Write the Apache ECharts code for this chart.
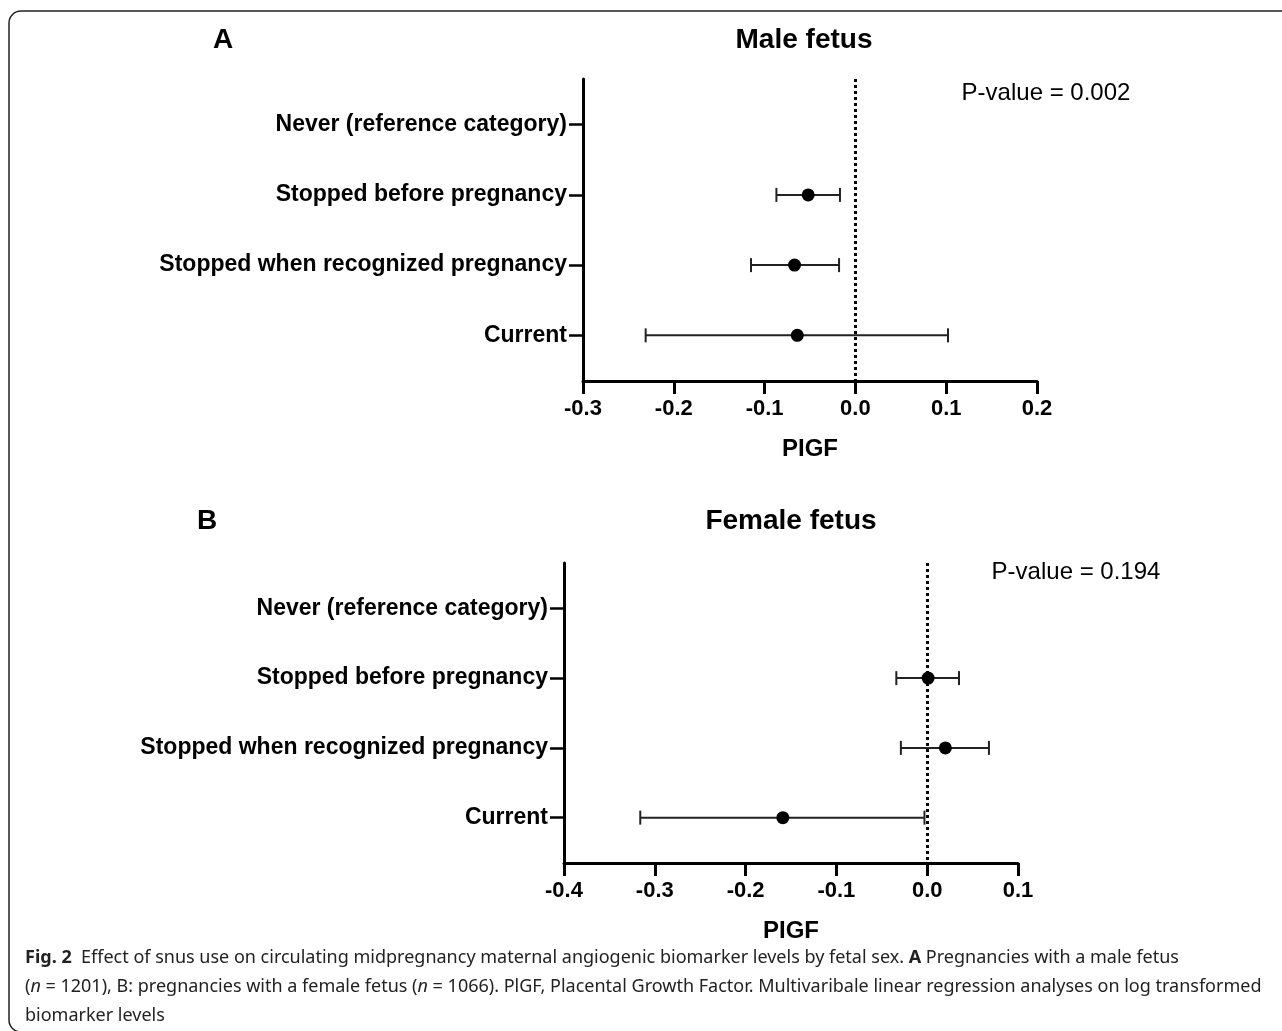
<!DOCTYPE html>
<html lang="en">
<head>
<meta charset="UTF-8">
<title>Fig. 2 snus PlGF</title>
<script src="https://cdn.jsdelivr.net/npm/echarts@6/dist/echarts.min.js"></script>
<style>
  html, body { margin: 0; padding: 0; background: #fff; }
  #chart { width: 1282px; height: 1031px; }
</style>
</head>
<body>
<div id="chart"></div>
<script>
// categories, top to bottom
const categories = ['Never (reference category)', 'Stopped before pregnancy', 'Stopped when recognized pregnancy', 'Current'];

// A: male fetus (estimate, lower CI, upper CI); reference category has no mark
const maleEst  = [null, -0.052, -0.067, -0.064];
const maleLow  = [null, -0.087, -0.115, -0.231];
const maleHigh = [null, -0.017, -0.018,  0.102];
const maleP = 'P-value = 0.002';

// B: female fetus
const femaleEst  = [null, 0.001, 0.020, -0.159];
const femaleLow  = [null, -0.034, -0.029, -0.316];
const femaleHigh = [null, 0.035, 0.068, -0.003];
const femaleP = 'P-value = 0.194';

// x ticks
const maleTicks = [-0.3, -0.2, -0.1, 0.0, 0.1, 0.2];
const femaleTicks = [-0.4, -0.3, -0.2, -0.1, 0.0, 0.1];

const FONT = 'Liberation Sans, Arial, sans-serif';
const catPos = categories.map((c, i) => i + 1);

function pts(est) {
  const out = [];
  est.forEach((v, i) => { if (v != null) out.push([v, i + 1]); });
  return out;
}
function bars(est, low, high) {
  const out = [];
  est.forEach((v, i) => { if (v != null) out.push([i + 1, low[i], high[i]]); });
  return out;
}

// whiskers with caps
function renderBar(params, api) {
  const y = api.value(0);
  const a = api.coord([api.value(1), y]);
  const b = api.coord([api.value(2), y]);
  const h = 7;
  const st = { stroke: '#222', lineWidth: 2 };
  return {
    type: 'group',
    children: [
      { type: 'line', shape: { x1: a[0], y1: a[1], x2: b[0], y2: b[1] }, style: st },
      { type: 'line', shape: { x1: a[0], y1: a[1] - h, x2: a[0], y2: a[1] + h }, style: st },
      { type: 'line', shape: { x1: b[0], y1: b[1] - h, x2: b[0], y2: b[1] + h }, style: st }
    ]
  };
}

function xAxisOf(idx, ticks) {
  return {
    type: 'value', gridIndex: idx,
    min: ticks[0], max: ticks[ticks.length - 1], interval: 0.1,
    name: 'PIGF', nameLocation: 'middle', nameGap: 56,
    nameTextStyle: { fontFamily: FONT, fontWeight: 'bold', fontSize: 24, color: '#000' },
    axisLine: { onZero: false, lineStyle: { color: '#000', width: 3 } },
    axisTick: { length: 13, lineStyle: { color: '#000', width: 3 } },
    axisLabel: { margin: 17, fontFamily: FONT, fontWeight: 'bold', fontSize: 22, color: '#000',
      formatter: v => v.toFixed(1) },
    splitLine: { show: false }
  };
}
function yAxisOf(idx) {
  return {
    type: 'value', gridIndex: idx, inverse: true, min: 0.35, max: 4.65,
    axisLine: { onZero: false, lineStyle: { color: '#000', width: 3 } },
    axisTick: { customValues: catPos, length: 14, lineStyle: { color: '#000', width: 2.5 } },
    axisLabel: { customValues: catPos, margin: 16, fontFamily: FONT, fontWeight: 'bold', fontSize: 23, color: '#000',
      formatter: v => categories[Math.round(v) - 1] },
    splitLine: { show: false }
  };
}

const zeroLine = {
  symbol: 'none', silent: true, label: { show: false },
  lineStyle: { type: 'dotted', width: 3, color: '#000' },
  data: [{ xAxis: 0 }]
};

function texts() {
  const t = (text, x, y, size, weight, align) => ({
    type: 'text', x: x, y: y,
    style: { text: text, fontFamily: FONT, fontSize: size, fontWeight: weight, fill: '#000',
      align: align || 'center', verticalAlign: 'middle' }
  });
  const cap = {
    fontFamily: 'Noto Sans, Open Sans, sans-serif', fontSize: 18, fill: '#222',
    align: 'left', verticalAlign: 'middle',
    rich: { b: { fontWeight: 'bold', fontFamily: 'Noto Sans, sans-serif', fontSize: 18, fill: '#222' },
            i: { fontStyle: 'italic', fontFamily: 'Noto Sans, sans-serif', fontSize: 18, fill: '#222' } }
  };
  const capLine = (text, y) => ({ type: 'text', x: 25, y: y, style: Object.assign({ text: text }, cap) });
  return [
    { type: 'rect', shape: { x: 9, y: 11, width: 1300, height: 1021, r: 12 },
      style: { fill: 'none', stroke: '#222', lineWidth: 1.5 } },
    t('A', 223, 40, 28, 'bold'),
    t('Male fetus', 804, 40, 28, 'bold'),
    t(maleP, 1046, 93, 24, 'normal'),
    t('B', 207, 521, 28, 'bold'),
    t('Female fetus', 791, 521, 28, 'bold'),
    t(femaleP, 1076, 572, 24, 'normal'),
    capLine('{b|Fig. 2}  Effect of snus use on circulating midpregnancy maternal angiogenic biomarker levels by fetal sex. {b|A} Pregnancies with a male fetus', 958),
    capLine('({i|n} = 1201), B: pregnancies with a female fetus ({i|n} = 1066). PlGF, Placental Growth Factor. Multivaribale linear regression analyses on log transformed', 987),
    capLine('biomarker levels', 1016)
  ];
}

const chart = echarts.init(document.getElementById('chart'), null, { renderer: 'canvas' });
chart.setOption({
  backgroundColor: '#fff',
  animation: false,
  grid: [
    { left: 583, right: 245, top: 79, height: 302 },
    { left: 564, right: 264, top: 563, height: 300 }
  ],
  xAxis: [xAxisOf(0, maleTicks), xAxisOf(1, femaleTicks)],
  yAxis: [yAxisOf(0), yAxisOf(1)],
  series: [
    { type: 'custom', xAxisIndex: 0, yAxisIndex: 0, renderItem: renderBar,
      encode: { x: [1, 2], y: 0 }, data: bars(maleEst, maleLow, maleHigh), z: 3 },
    { type: 'scatter', xAxisIndex: 0, yAxisIndex: 0, symbolSize: 13,
      itemStyle: { color: '#000', opacity: 1 }, data: pts(maleEst), markLine: zeroLine, z: 4 },
    { type: 'custom', xAxisIndex: 1, yAxisIndex: 1, renderItem: renderBar,
      encode: { x: [1, 2], y: 0 }, data: bars(femaleEst, femaleLow, femaleHigh), z: 3 },
    { type: 'scatter', xAxisIndex: 1, yAxisIndex: 1, symbolSize: 13,
      itemStyle: { color: '#000', opacity: 1 }, data: pts(femaleEst), markLine: zeroLine, z: 4 }
  ],
  graphic: texts()
});
</script>
</body>
</html>
